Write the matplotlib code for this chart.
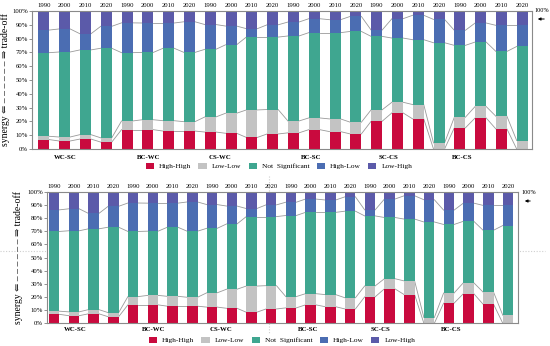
import matplotlib
matplotlib.use("Agg")
import matplotlib.pyplot as plt
from matplotlib.patches import Patch
from matplotlib.lines import Line2D
import numpy as np

plt.rcParams['font.family'] = ['Liberation Serif', 'DejaVu Serif', 'DejaVu Sans']

years = ["1990", "2000", "2010", "2020"]
groups = ["WC-SC", "BC-WC", "CS-WC", "BC-SC", "SC-CS", "BC-CS"]
classes = ["High-High", "Low-Low", "Not  Significant", "High-Low", "Low-High"]

high_high = [6.8, 5.8, 7.2, 5.0, 14.0, 14.0, 13.0, 13.0, 12.3, 11.4, 8.4, 10.9,
             11.7, 14.0, 12.6, 10.9, 20.1, 26.2, 21.8, 0.0, 15.3, 22.5, 14.5, 0.0]
low_low = [2.4, 2.9, 3.2, 3.1, 6.3, 7.2, 7.5, 6.8, 10.9, 14.5, 19.9, 17.7,
           8.6, 8.5, 9.2, 8.5, 8.3, 7.7, 10.4, 4.4, 7.7, 8.3, 9.2, 6.1]
not_sig = [60.6, 61.6, 61.4, 64.9, 49.5, 48.8, 52.5, 50.2, 49.0, 49.6, 52.8, 52.5,
           61.6, 61.8, 62.5, 65.8, 53.2, 46.5, 47.0, 72.6, 52.1, 46.7, 47.0, 68.2]
high_low = [16.4, 16.7, 11.7, 15.9, 21.6, 21.3, 18.3, 22.2, 18.0, 13.6, 6.1, 8.9,
            10.1, 10.1, 9.4, 10.9, 4.6, 14.0, 17.7, 16.9, 10.9, 13.8, 18.9, 15.3]
low_high = [13.8, 13.0, 16.5, 11.1, 8.6, 8.7, 8.7, 7.8, 9.8, 10.9, 12.8, 10.0,
            8.0, 5.6, 6.3, 3.9, 13.8, 5.6, 3.1, 6.1, 14.0, 8.7, 10.4, 10.4]

colors = ["#C90A3E", "#C3C3C3", "#3FA690", "#4B6DB2", "#5B5AA9"]
series = [high_high, low_low, not_sig, high_low, low_high]

W, H = 550, 346
fig = plt.figure(figsize=(W / 100, H / 100), dpi=100)


def fx(px):
    return px / W


def fy(py):
    return 1 - py / H


group_label_x = [1.05, 5.05, 8.45, 12.85, 16.55, 20.1]


def draw_panel(rect, xlim, ylab_x, year_pad, grp_off, legend_xy, label_pct_xy, arrow_y):
    ax = fig.add_axes(rect)
    ax.set_facecolor("white")
    n = len(high_high)
    x = np.arange(n)
    bw = 0.53
    bottom = np.zeros(n)
    tops = []
    for vals, c in zip(series, colors):
        v = np.array(vals)
        ax.bar(x, v, bw, bottom=bottom, color=c, linewidth=0, zorder=2)
        bottom = bottom + v
        tops.append(bottom.copy())
    # connecting lines
    for t in tops[:-1]:
        for i in range(n - 1):
            ax.plot([x[i] + bw / 2, x[i + 1] - bw / 2], [t[i], t[i + 1]],
                    color="#9a9a9a", lw=0.6, zorder=1.5)
    ax.set_xlim(*xlim)
    ax.set_ylim(0, 100)
    ax.set_yticks(np.arange(0, 101, 10))
    ax.set_yticklabels([f"{v}%" for v in range(0, 101, 10)], fontsize=4.8)
    ax.tick_params(axis='y', length=2, width=0.5, pad=1, color="#666666")
    ax.xaxis.tick_top()
    ax.set_xticks(x)
    ax.set_xticklabels(years * len(groups), fontsize=4.8)
    ax.tick_params(axis='x', length=0, pad=year_pad)
    for s in ax.spines.values():
        s.set_color("#8a8a8a")
        s.set_linewidth(0.8)
    ax.set_ylabel("synergy ⇐ – – – – – – ⇒ trade-off", fontsize=7.0, labelpad=1)
    ax.yaxis.set_label_coords(ylab_x, 0.5)
    for gx, g in zip(group_label_x, groups):
        ax.annotate(g, xy=(gx, 0), xycoords=('data', 'axes fraction'),
                    xytext=(0, -grp_off), textcoords='offset points',
                    ha='center', va='center', fontsize=4.9, fontweight='bold')
    handles = [Patch(facecolor=c, edgecolor='none') for c in colors]
    fig.legend(handles, classes, loc='center', bbox_to_anchor=legend_xy, ncol=5,
               frameon=False, fontsize=5.3, handlelength=1.1, handleheight=0.9,
               handletextpad=0.7, columnspacing=1.0, borderaxespad=0, borderpad=0)
    fig.text(label_pct_xy[0], label_pct_xy[1], "100%", fontsize=4.5, ha='left', va='center')
    fig.add_artist(plt.Annotation("", xy=(fx(arrow_y[0]), fy(arrow_y[2])),
                                  xytext=(fx(arrow_y[1]), fy(arrow_y[2])),
                                  xycoords='figure fraction', textcoords='figure fraction',
                                  arrowprops=dict(arrowstyle='-|>', color='black', lw=0.7,
                                                  mutation_scale=4)))
    return ax


# guide lines from the original figure (drawn under the axes)
fig.add_artist(Line2D([0, fx(545)], [fy(251), fy(251)], color="#cfcfcf", lw=0.8,
                      ls=(0, (1, 1.5)), zorder=-5))
fig.add_artist(Line2D([fx(269), fx(269)], [fy(176), fy(334)], color="#cfcfcf", lw=0.8,
                      ls=(0, (1, 1.5)), zorder=-5))

# top panel
draw_panel([fx(32), fy(149), fx(532 - 32), (149 - 11) / H], (-0.57, 23.47),
           -0.043, 2.0, 6.0, (fx(279), fy(166)), (fx(534), fy(11)), (535, 547, 19))
# bottom panel
draw_panel([fx(47.3), fy(323.3), fx(518.3 - 47.3), (323.3 - 191.7) / H], (-0.35, 23.52),
           -0.051, 2.0, 4.3, (fx(282), fy(340)), (fx(521), fy(193)), (522, 533, 201))

fig.savefig("out.png", dpi=100)
